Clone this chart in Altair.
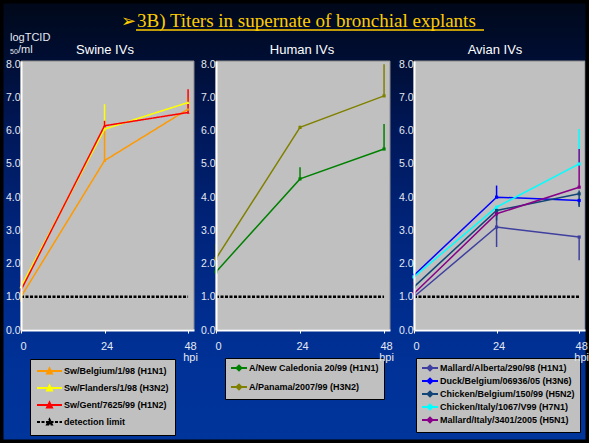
import altair as alt
import pandas as pd

W, H = 589, 443

# ---- data -----------------------------------------------------------------
HOURS = [0, 24, 48]
Y_TICKS = [0, 1, 2, 3, 4, 5, 6, 7, 8]

SWINE = ["Sw/Belgium/1/98 (H1N1)", "Sw/Flanders/1/98 (H3N2)", "Sw/Gent/7625/99 (H1N2)"]
SWINE_COLORS = ["#FF9900", "#FFFF00", "#FF0000"]
SWINE_MEAN = [[1.0, 5.1, 6.65], [1.3, 6.05, 6.85], [1.2, 6.15, 6.55]]
SWINE_LO = [[0.85, 5.1, 6.65], [1.3, 6.05, 6.85], [1.2, 6.15, 6.55]]
SWINE_HI = [[1.2, 6.1, 7.0], [1.4, 6.8, 7.0], [1.65, 6.3, 7.25]]

HUMAN = ["A/New Caledonia 20/99 (H1N1)", "A/Panama/2007/99 (H3N2)"]
HUMAN_COLORS = ["#008000", "#808000"]
HUMAN_MEAN = [[1.75, 4.55, 5.45], [2.15, 6.1, 7.05]]
HUMAN_LO = [[1.75, 4.55, 5.45], [2.15, 6.1, 7.05]]
HUMAN_HI = [[2.0, 4.9, 6.2], [2.6, 6.15, 8.0]]

AVIAN = ["Mallard/Alberta/290/98 (H1N1)", "Duck/Belgium/06936/05 (H3N6)",
         "Chicken/Belgium/150/99 (H5N2)", "Chicken/Italy/1067/V99 (H7N1)",
         "Mallard/Italy/3401/2005 (H5N1)"]
AVIAN_COLORS = ["#3F3F9F", "#0000FF", "#114477", "#00FFFF", "#880088"]
AVIAN_MEAN = [[1.0, 3.1, 2.8], [1.65, 4.0, 3.9], [1.3, 3.6, 4.1], [1.6, 3.7, 5.0], [1.1, 3.5, 4.3]]
AVIAN_LO = [[0.75, 2.5, 2.1], [1.65, 4.0, 3.75], [1.3, 3.3, 3.7], [1.6, 3.7, 5.0], [1.1, 3.5, 4.3]]
AVIAN_HI = [[1.0, 3.7, 2.8], [1.65, 4.35, 3.95], [1.3, 3.6, 4.2], [2.1, 3.7, 6.05], [1.45, 3.5, 5.45]]

DETECTION_LIMIT = 1.0
DETECTION_LABEL = "detection limit"

TITLE_ARROW = "\u27a2"
TITLE = "3B) Titers in supernate of bronchial explants"
PANEL_TITLES = ["Swine IVs", "Human IVs", "Avian IVs"]
Y_TITLE = "logTCID"
Y_TITLE_SUB = "50"
Y_TITLE_UNIT = "/ml"

# ---- layout ---------------------------------------------------------------
X_MAX = 49.7
Y_MAX = 8.1
PLOT_TOP, PLOT_BOTTOM = 61, 330
FONT = "Liberation Sans"
LABEL_COLOR = "#E4E9F2"


def long_frame(names, mean, lo, hi):
    rows = []
    for name, m, l, h in zip(names, mean, lo, hi):
        for t, mv, lv, hv in zip(HOURS, m, l, h):
            rows.append({"series": name, "hpi": t, "value": mv, "lo": lv, "hi": hv})
    return pd.DataFrame(rows)


def limit_frame(name):
    return pd.DataFrame({"series": [name, name], "hpi": [HOURS[0], HOURS[-1]],
                         "value": [DETECTION_LIMIT, DETECTION_LIMIT]})


ONE = alt.Data(values=[{}])


def legend_for(x, y, line_w, pad, row_pad, marker):
    # legend symbol: a horizontal stroke with a small marker in its middle
    r = 5 if line_w == 25 else 4
    span = line_w / r
    mid = (line_w / 2 - r) / r
    line = f"M-1,0H{span - 1:.3f}"
    h = 2.4 / r
    mark = (f"M{mid - h:.3f},{h:.3f}L{mid:.3f},{-h:.3f}L{mid + h:.3f},{h:.3f}Z" if marker == "tri"
            else f"M{mid - h:.3f},0L{mid:.3f},{-h:.3f}L{mid + h:.3f},0L{mid:.3f},{h:.3f}Z")
    return alt.Legend(
        orient="none", legendX=x, legendY=y, title=None,
        fillColor="#C0C0C0", strokeColor="#000000", padding=pad,
        labelFont=FONT, labelFontSize=9, labelFontWeight="bold", labelColor="#000000",
        labelOffset=line_w - 2 * r - 2 + 3, rowPadding=row_pad,
        symbolType=line + mark, symbolSize=(2 * r) ** 2, symbolStrokeWidth=2,
    )


def panel(names, colors, mean, lo, hi, x_left, x_right, legend, marker, limit_in_legend):
    df = long_frame(names, mean, lo, hi)
    xs = alt.Scale(domain=[0, X_MAX], range=[x_left, x_right], nice=False, zero=False)
    ys = alt.Scale(domain=[0, Y_MAX], range=[PLOT_BOTTOM, PLOT_TOP], nice=False, zero=False)
    xaxis = alt.Axis(orient="bottom", offset=PLOT_BOTTOM - H, values=HOURS, title=None, grid=False,
                     domainColor="#FFFFFF", domainWidth=2, tickColor="#FFFFFF", tickSize=3,
                     labelColor=LABEL_COLOR, labelFont=FONT, labelFontSize=11, labelPadding=7,
                     labelOffset=2, labelLineHeight=11, labelFlush=False, zindex=1,
                     labelExpr=f"datum.value == {HOURS[-1]} ? ['{HOURS[-1]}', 'hpi'] : datum.label")
    yaxis = alt.Axis(orient="left", offset=-x_left, values=Y_TICKS, format=".1f", title=None,
                     grid=False, domainColor="#FFFFFF", domainWidth=2, ticks=False,
                     labelColor=LABEL_COLOR, labelFont=FONT, labelFontSize=10.5, labelPadding=1,
                     labelFlush=False, zindex=1)
    x = alt.X("hpi:Q", scale=xs, axis=xaxis)
    y = alt.Y("value:Q", scale=ys, axis=yaxis)

    domain = names + ([DETECTION_LABEL] if limit_in_legend else [])
    rng = colors + (["#000000"] if limit_in_legend else [])
    color = alt.Color("series:N", scale=alt.Scale(domain=domain, range=rng), legend=legend)

    area = alt.Chart(ONE).mark_rect(fill="#C0C0C0", stroke="#8A8A8A", strokeWidth=1).encode(
        x=alt.XDatum(0, scale=xs, axis=xaxis), x2=alt.X2Datum(X_MAX),
        y=alt.YDatum(0, scale=ys, axis=yaxis), y2=alt.Y2Datum(Y_MAX))

    layers = [area]
    if limit_in_legend:
        dash = alt.StrokeDash("series:N", legend=legend, scale=alt.Scale(
            domain=domain, range=[[1, 0]] * len(names) + [[3, 1.5]]))
        layers.append(alt.Chart(limit_frame(DETECTION_LABEL)).mark_line(strokeWidth=2.5).encode(
            x=x, y=y, color=color, strokeDash=dash))
        lines = alt.Chart(df).mark_line(strokeWidth=1.5).encode(x=x, y=y, color=color, strokeDash=dash)
    else:
        layers.append(alt.Chart(ONE).mark_rule(color="#000000", strokeDash=[3, 1.5], strokeWidth=2.5).encode(
            x=alt.XDatum(HOURS[0], scale=xs, axis=xaxis), x2=alt.X2Datum(HOURS[-1]),
            y=alt.YDatum(DETECTION_LIMIT, scale=ys, axis=yaxis)))
        lines = alt.Chart(df).mark_line(strokeWidth=1.5).encode(x=x, y=y, color=color)
    bars = alt.Chart(df).mark_rule(strokeWidth=1.5).encode(
        x=x, y=alt.Y("lo:Q", scale=ys, axis=yaxis), y2="hi:Q", color=color)
    pts = alt.Chart(df).mark_point(filled=True, size=10, opacity=1,
                                   shape="triangle-up" if marker == "tri" else "square").encode(
        x=x, y=y, color=color)
    layers += [bars, lines, pts]
    return alt.layer(*layers)


def text(t, x, y, size, color=LABEL_COLOR, font=FONT, align="left", weight="normal"):
    return alt.Chart(ONE).mark_text(text=t, font=font, fontSize=size, color=color, align=align,
                                    baseline="alphabetic", fontWeight=weight).encode(
        x=alt.value(x), y=alt.value(y))


background = alt.Chart(ONE).mark_rect(fill=alt.LinearGradient(
    gradient="linear", x1=0, x2=0, y1=0, y2=1,
    stops=[alt.GradientStop(offset=0, color="#000818"),
           alt.GradientStop(offset=0.1, color="#000c2c"),
           alt.GradientStop(offset=0.3, color="#00185a"),
           alt.GradientStop(offset=0.5, color="#002378"),
           alt.GradientStop(offset=0.7, color="#002d8e"),
           alt.GradientStop(offset=0.85, color="#003298"),
           alt.GradientStop(offset=1, color="#00359c")])).encode(
    x=alt.value(0), x2=alt.value(W), y=alt.value(0), y2=alt.value(H))

swine = panel(SWINE, SWINE_COLORS, SWINE_MEAN, SWINE_LO, SWINE_HI, 21, 194,
              legend_for(30, 359, 25, 6, 3, "tri"), "tri", True)
human = panel(HUMAN, HUMAN_COLORS, HUMAN_MEAN, HUMAN_LO, HUMAN_HI, 216, 390,
              legend_for(225, 358, 16, 5, 5, "dia"), "dia", False)
avian = panel(AVIAN, AVIAN_COLORS, AVIAN_MEAN, AVIAN_LO, AVIAN_HI, 414, 585,
              legend_for(416, 358, 16, 5, -1, "dia"), "dia", False)

gold = "#FFCC00"
underline = alt.Chart(ONE).mark_rule(color=gold, strokeWidth=1.5).encode(
    x=alt.value(136), x2=alt.value(484), y=alt.value(30))
frame = alt.Chart(ONE).mark_rect(fillOpacity=0, stroke="#000000", strokeWidth=7).encode(
    x=alt.value(0), x2=alt.value(W), y=alt.value(0), y2=alt.value(H))

texts = [
    text(TITLE_ARROW, 136, 27, 18, color=gold, font="DejaVu Sans", align="right"),
    text(TITLE, 137, 27, 19, color=gold, font="Liberation Serif"),
    underline,
    text(PANEL_TITLES[0], 105, 54, 13, color="#FFFFFF", align="center"),
    text(PANEL_TITLES[1], 302, 54, 13, color="#FFFFFF", align="center"),
    text(PANEL_TITLES[2], 495, 54, 13, color="#FFFFFF", align="center"),
    text(Y_TITLE, 10, 41, 11),
    text(Y_TITLE_SUB, 10, 54, 7),
    text(Y_TITLE_UNIT, 18, 53, 11),
]

chart = alt.layer(background, swine, human, avian, *texts, frame).resolve_scale(
    x="independent", y="independent", color="independent", strokeDash="independent"
).properties(width=W, height=H, padding=0, autosize="none", background="#00329a"
).configure_view(stroke="transparent")

chart.save("out.html", embed_options={"renderer": "svg", "actions": False})
